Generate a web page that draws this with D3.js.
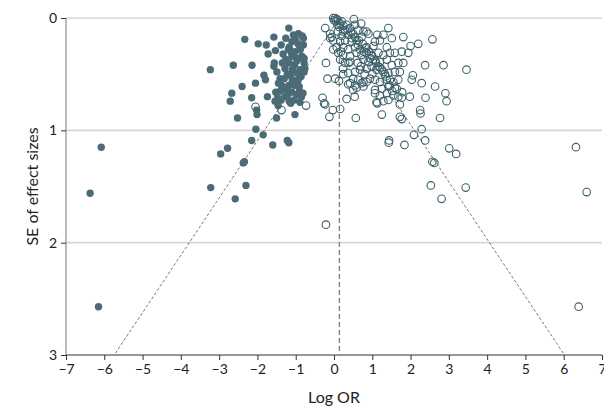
<!DOCTYPE html>
<html>
<head>
<meta charset="utf-8">
<script src="https://cdn.jsdelivr.net/npm/d3@7"></script>
<style>
  html, body { margin: 0; padding: 0; background: #fff; }
  svg text { font-family: "Lato", "Noto Sans", sans-serif; fill: #222; }
</style>
</head>
<body>
<svg id="chart" width="604" height="409"></svg>
<script>
// Imputed (trim-and-fill) studies: [log OR, SE]
const imputedStudies = [
  [-1.18,0.09],[-2.33,0.19],[-1.98,0.23],[-1.57,0.17],[-1.77,0.24],[-1.26,0.18],[-1.06,0.15],[-0.93,0.14],
  [-0.83,0.16],[-0.80,0.24],[-1.53,0.29],[-1.72,0.32],[-3.23,0.46],[-2.63,0.42],[-2.14,0.42],[-1.56,0.40],
  [-1.83,0.51],[-1.79,0.55],[-2.05,0.58],[-2.40,0.61],[-2.67,0.67],[-2.71,0.74],[-2.15,0.71],[-1.74,0.70],
  [-2.52,0.89],[-2.02,0.82],[-2.01,0.86],[-1.46,0.78],[-1.50,0.89],[-1.02,0.86],[-2.04,0.99],[-1.85,1.04],
  [-2.15,1.09],[-1.60,1.13],[-1.22,1.09],[-1.18,1.11],[-2.78,1.16],[-2.96,1.21],[-2.37,1.29],[-2.34,1.28],
  [-6.08,1.15],[-6.37,1.56],[-3.22,1.51],[-2.30,1.49],[-2.58,1.61],[-6.15,2.57],
  [-1.33,0.32],[-1.19,0.28],[-1.02,0.30],[-0.88,0.28],[-0.84,0.34],[-1.10,0.34],[-1.26,0.37],[-0.97,0.38],
  [-1.17,0.40],[-1.35,0.40],[-1.57,0.43],[-1.03,0.42],[-0.78,0.40],[-0.76,0.45],[-0.88,0.46],[-1.09,0.46],
  [-1.28,0.45],[-1.49,0.48],[-1.41,0.54],[-1.15,0.51],[-0.98,0.49],[-0.93,0.55],[-1.09,0.55],[-1.30,0.54],
  [-1.37,0.60],[-1.18,0.60],[-1.02,0.60],[-0.91,0.61],[-1.52,0.66],[-1.40,0.65],[-1.23,0.64],[-1.10,0.66],
  [-0.90,0.65],[-0.81,0.67],[-1.47,0.71],[-1.28,0.70],[-1.54,0.74],[-1.38,0.73],[-1.17,0.74],[-1.04,0.73],
  [-0.89,0.75],[-1.13,0.76],[-1.17,0.26],[-0.80,0.18],[-0.78,0.36],[-0.78,0.48],[-1.10,0.21],[-1.38,0.24],
  [-0.94,0.23],
  [-1.00,0.20],[-0.90,0.25],[-1.12,0.30],[-0.95,0.36],[-1.22,0.50],[-0.86,0.52],[-1.05,0.57],[-0.97,0.68],
  [-1.20,0.68],[-0.85,0.70],[-1.30,0.62],[-1.45,0.58]
];

// Observed studies: [log OR, SE]
const observedStudies = [
  [-0.02,0.00],[0.03,0.00],[0.07,0.01],[0.11,0.02],[0.05,0.03],[0.16,0.05],[0.09,0.06],[0.00,0.02],[0.13,0.08],
  [0.52,0.01],[0.71,0.05],[1.42,0.09],[2.57,0.19],[1.81,0.17],[2.20,0.23],[2.00,0.25],[-0.23,0.09],[-0.10,0.14],
  [-0.21,0.40],[-0.17,0.54],[0.03,0.54],[0.13,0.56],[-0.30,0.71],[-0.26,0.76],[-0.03,0.82],[0.16,0.81],
  [-0.12,0.88],[0.33,0.72],[0.54,0.70],[0.57,0.89],[1.25,0.86],[2.38,0.42],[2.86,0.42],[3.46,0.46],
  [2.64,0.61],[2.91,0.67],[2.94,0.74],[2.39,0.71],[2.29,0.58],[2.06,0.51],[2.03,0.55],[1.98,0.70],
  [1.72,0.77],[2.25,0.82],[2.26,0.85],[2.77,0.89],[1.72,0.88],[1.77,0.90],[2.29,0.99],[2.09,1.04],
  [2.38,1.09],[1.44,1.09],[1.43,1.11],[1.84,1.13],[3.01,1.16],[3.19,1.21],[2.57,1.28],[2.62,1.29],
  [2.53,1.49],[3.44,1.51],[2.81,1.61],[6.32,1.15],[6.60,1.55],[6.39,2.57],[-0.21,1.84],
  [0.33,0.06],[0.42,0.09],[0.55,0.06],[0.24,0.12],[0.37,0.15],[0.50,0.14],[0.63,0.11],[0.77,0.12],
  [0.85,0.12],[0.90,0.14],[0.72,0.17],[0.59,0.20],[0.46,0.21],[0.29,0.20],[0.16,0.21],[-0.02,0.20],
  [-0.06,0.17],[0.07,0.26],[0.24,0.26],[0.37,0.28],[0.55,0.26],[0.68,0.28],[0.85,0.26],[1.03,0.25],
  [1.13,0.15],[1.29,0.15],[1.20,0.20],[1.07,0.21],[1.38,0.26],[1.51,0.18],[-0.02,0.28],[0.11,0.31],
  [0.24,0.33],[0.42,0.34],[0.59,0.31],[0.72,0.33],[0.85,0.31],[0.98,0.33],[1.16,0.31],[1.29,0.33],
  [1.46,0.31],[1.59,0.31],[1.77,0.30],[1.94,0.31],[0.16,0.37],[0.29,0.40],[0.42,0.39],[0.77,0.37],
  [0.90,0.39],[1.03,0.37],[1.20,0.39],[1.38,0.37],[1.51,0.42],[1.68,0.40],[1.81,0.40],[0.24,0.45],
  [0.37,0.49],[0.55,0.48],[0.68,0.46],[0.85,0.45],[0.98,0.43],[1.11,0.46],[1.29,0.48],[1.42,0.49],
  [1.59,0.48],[1.72,0.48],[0.50,0.54],[0.63,0.55],[0.77,0.57],[0.94,0.54],[1.07,0.55],[1.20,0.57],
  [1.38,0.55],[1.55,0.57],[1.68,0.55],[0.42,0.58],[0.59,0.62],[0.77,0.61],[1.07,0.64],[1.25,0.63],
  [1.42,0.61],[1.64,0.63],[0.50,0.64],[1.07,0.67],[1.20,0.69],[1.38,0.67],[1.55,0.69],[1.68,0.70],
  [1.77,0.71],[1.13,0.76],[1.29,0.74],[1.42,0.73],[-0.23,0.77],[0.37,0.59],[0.55,0.60],[0.72,0.58],
  [0.85,0.57],[1.11,0.75],[-0.10,0.18],[0.24,0.50],[-0.73,0.78],[-1.37,0.82],[-2.05,0.79],
  [0.29,0.11],[0.47,0.18],[0.63,0.24],[0.78,0.30],[0.94,0.36],[1.10,0.40],[1.20,0.44],[1.33,0.50],
  [1.46,0.55],[1.59,0.62],[1.78,0.66],
  [0.20,0.03],[0.25,0.07],[0.35,0.10],[0.45,0.13],[0.55,0.17],[0.65,0.20],[0.75,0.23],[0.82,0.27],
  [0.92,0.30],[1.00,0.34],[1.08,0.38],[1.15,0.43],[1.25,0.46],[1.35,0.52],[1.45,0.60],[1.52,0.65],
  [0.62,0.40],[0.70,0.43],[1.00,0.50],[0.80,0.50],[0.38,0.40],[0.18,0.30],[0.10,0.12],[0.20,0.16]
];

const xTicks = [-7,-6,-5,-4,-3,-2,-1,0,1,2,3,4,5,6,7];
const yTicks = [0,1,2,3];
const yGridTicks = [0,1,2];
const pooledLogOR = 0.14;
const zCrit = 1.96;
const seMax = 3;

const svg = d3.select("#chart");
const x = d3.scaleLinear().domain([-7, 7]).range([66, 602]);
const y = d3.scaleLinear().domain([0, 3]).range([18, 355]);

// grid lines
svg.append("g").selectAll("line").data(yGridTicks).join("line")
  .attr("x1", x(-7)).attr("x2", x(7))
  .attr("y1", d => y(d)).attr("y2", d => y(d))
  .attr("stroke", "#d6d6d6").attr("stroke-width", 1.6);

// y axis
const yAxis = svg.append("g").attr("transform", `translate(${x(-7)},0)`)
  .call(d3.axisLeft(y).tickValues(yTicks).tickSize(5).tickPadding(4).tickFormat(d3.format("d")));
yAxis.select(".domain").attr("stroke", "#aaaaaa").attr("stroke-width", 1.6).attr("d", `M0,${y(0)}V${y(3)}`);
yAxis.selectAll(".tick line").attr("stroke", "#333");
yAxis.selectAll(".tick text").attr("font-size", 14).attr("fill", "#222");

// x axis
const xAxis = svg.append("g").attr("transform", `translate(0,${y(3)})`)
  .call(d3.axisBottom(x).tickValues(xTicks).tickSize(5).tickPadding(4).tickFormat(d3.format("d")));
xAxis.select(".domain").attr("stroke", "#333").attr("stroke-width", 1).attr("d", `M${x(-7)},0H${x(7)}`);
xAxis.selectAll(".tick line").attr("stroke", "#333");
xAxis.selectAll(".tick text").attr("font-size", 14).attr("fill", "#222");
svg.selectAll(".tick text").style("font-family", "Lato, 'Noto Sans', sans-serif");

// pooled estimate line
svg.append("line")
  .attr("x1", x(pooledLogOR)).attr("x2", x(pooledLogOR))
  .attr("y1", y(0)).attr("y2", y(seMax))
  .attr("stroke", "#777").attr("stroke-width", 1.2).attr("stroke-dasharray", "5,3");

// funnel lines
[-1, 1].forEach(s => {
  svg.append("line")
    .attr("x1", x(pooledLogOR)).attr("y1", y(0))
    .attr("x2", x(pooledLogOR + s * zCrit * seMax)).attr("y2", y(seMax))
    .attr("stroke", "#555").attr("stroke-width", 0.8).attr("stroke-dasharray", "3,2");
});

// imputed (filled)
svg.append("g").selectAll("circle").data(imputedStudies).join("circle")
  .attr("cx", d => x(d[0])).attr("cy", d => y(d[1])).attr("r", 3.7)
  .attr("fill", "#4b6b76");

// observed (open)
svg.append("g").selectAll("circle").data(observedStudies).join("circle")
  .attr("cx", d => x(d[0])).attr("cy", d => y(d[1])).attr("r", 3.8)
  .attr("fill", "none").attr("stroke", "#3d606b").attr("stroke-width", 1.1);

// axis titles
svg.append("text").attr("x", x(0)).attr("y", 403).attr("text-anchor", "middle")
  .attr("font-size", 16).text("Log OR");
svg.append("text").attr("transform", `translate(38,${(y(0)+y(3))/2}) rotate(-90)`)
  .attr("text-anchor", "middle").attr("font-size", 16).text("SE of effect sizes");
</script>
</body>
</html>
